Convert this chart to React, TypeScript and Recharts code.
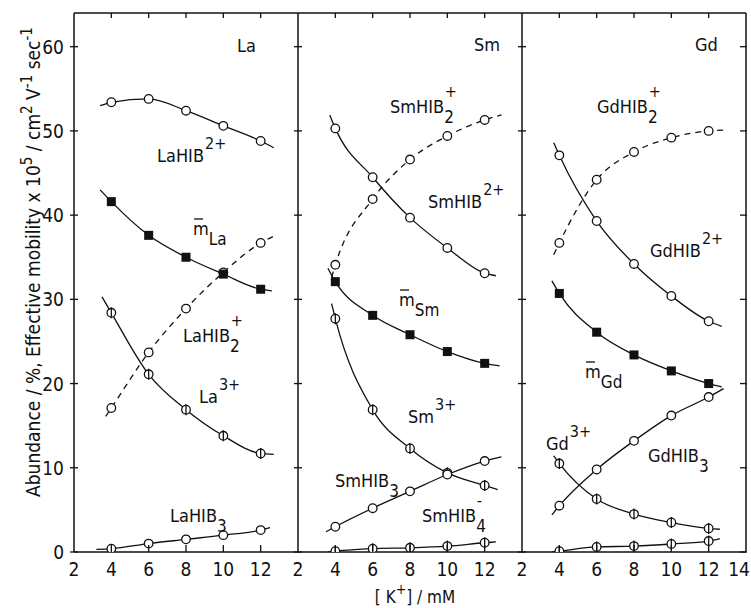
import React from 'react';
import { LineChart, Line, XAxis, YAxis } from 'recharts';

const kConc = [4, 6, 8, 10, 12];
const xTicks = [2, 4, 6, 8, 10, 12, 14];
const yTicks = [0, 10, 20, 30, 40, 50, 60];

// La
const laHib2 = [53.4, 53.8, 52.4, 50.6, 48.8];
const laMean = [41.6, 37.6, 35.0, 33.0, 31.2];
const laHib2Plus = [17.1, 23.7, 28.9, 33.2, 36.7];
const la3 = [28.4, 21.1, 16.9, 13.8, 11.7];
const laHib3 = [0.4, 1.0, 1.5, 2.0, 2.6];
// Sm
const smHib2 = [50.3, 44.5, 39.7, 36.1, 33.1];
const smHib2Plus = [34.1, 41.9, 46.6, 49.4, 51.3];
const smMean = [32.1, 28.1, 25.8, 23.8, 22.4];
const sm3 = [27.7, 16.9, 12.3, 9.4, 7.9];
const smHib3 = [3.0, 5.2, 7.2, 9.2, 10.8];
const smHib4 = [0.1, 0.4, 0.5, 0.7, 1.1];
// Gd
const gdHib2Plus = [36.7, 44.2, 47.5, 49.2, 50.0];
const gdHib2 = [47.1, 39.3, 34.2, 30.4, 27.4];
const gdMean = [30.7, 26.1, 23.4, 21.5, 20.0];
const gdHib3 = [5.5, 9.8, 13.2, 16.2, 18.4];
const gd3 = [10.5, 6.3, 4.5, 3.5, 2.8];
const gdHib4 = [0.1, 0.6, 0.7, 0.95, 1.3];

// where each drawn curve starts and stops: [x0, y0, x1, y1]
const laHib2Ends = [3.4, 53.0, 12.7, 48.0];
const laMeanEnds = [3.4, 43.0, 12.6, 31.0];
const laHib2PlusEnds = [3.7, 16.1, 12.8, 37.6];
const la3Ends = [3.5, 30.3, 12.7, 11.6];
const laHib3Ends = [3.2, 0.3, 12.5, 2.9];
const smHib2Ends = [3.7, 51.9, 12.6, 32.8];
const smHib2PlusEnds = [3.8, 32.6, 12.9, 51.9];
const smMeanEnds = [3.6, 33.7, 12.8, 22.1];
const sm3Ends = [3.8, 29.5, 12.7, 7.4];
const smHib3Ends = [3.5, 2.4, 12.9, 11.3];
const smHib4Ends = [3.6, 0, 12.6, 1.2];
const gdHib2PlusEnds = [3.7, 35.3, 12.8, 50.1];
const gdHib2Ends = [3.7, 48.6, 12.7, 26.8];
const gdMeanEnds = [3.6, 32.2, 12.7, 19.6];
const gdHib3Ends = [3.6, 4.4, 12.8, 19.4];
const gd3Ends = [3.7, 11.4, 12.6, 2.7];
const gdHib4Ends = [3.6, 0, 12.6, 1.6];

const INK = '#111';
const LABEL_FONT = '"DejaVu Sans Condensed", "DejaVu Sans", sans-serif';
const TICK_FONT = '"Liberation Sans Narrow", "DejaVu Sans Condensed", sans-serif';

type Marker = 'open' | 'bar' | 'square';
interface Series { vals: number[]; ends: number[]; marker: Marker; dashed?: boolean }

const build = (vals: number[], ends: number[]) => [
  { x: ends[0], y: ends[1], end: true },
  ...kConc.map((x, i) => ({ x, y: vals[i] })),
  { x: ends[2], y: ends[3], end: true },
];

const panels: { left: number; right: number; series: Series[] }[] = [
  {
    left: 74, right: 298,
    series: [
      { vals: laHib2, ends: laHib2Ends, marker: 'open' },
      { vals: laHib2Plus, ends: laHib2PlusEnds, marker: 'open', dashed: true },
      { vals: laMean, ends: laMeanEnds, marker: 'square' },
      { vals: la3, ends: la3Ends, marker: 'bar' },
      { vals: laHib3, ends: laHib3Ends, marker: 'open' },
    ],
  },
  {
    left: 298, right: 522,
    series: [
      { vals: smHib2Plus, ends: smHib2PlusEnds, marker: 'open', dashed: true },
      { vals: smHib2, ends: smHib2Ends, marker: 'open' },
      { vals: smMean, ends: smMeanEnds, marker: 'square' },
      { vals: sm3, ends: sm3Ends, marker: 'bar' },
      { vals: smHib3, ends: smHib3Ends, marker: 'open' },
      { vals: smHib4, ends: smHib4Ends, marker: 'bar' },
    ],
  },
  {
    left: 522, right: 746,
    series: [
      { vals: gdHib2Plus, ends: gdHib2PlusEnds, marker: 'open', dashed: true },
      { vals: gdHib2, ends: gdHib2Ends, marker: 'open' },
      { vals: gdMean, ends: gdMeanEnds, marker: 'square' },
      { vals: gd3, ends: gd3Ends, marker: 'bar' },
      { vals: gdHib3, ends: gdHib3Ends, marker: 'open' },
      { vals: gdHib4, ends: gdHib4Ends, marker: 'bar' },
    ],
  },
];

const makeDot = (marker: Marker) => (p: any) => {
  const { cx, cy, payload, index } = p;
  if (payload.end) return <g key={index} />;
  if (marker === 'square')
    return <rect key={index} x={cx - 4.5} y={cy - 4.5} width={9} height={9} fill={INK} />;
  return (
    <g key={index}>
      <circle cx={cx} cy={cy} r={4.3} fill="#fff" stroke={INK} strokeWidth={1.3} />
      {marker === 'bar' && <line x1={cx} x2={cx} y1={cy - 5.5} y2={cy + 5.5} stroke={INK} strokeWidth={1.3} />}
    </g>
  );
};

const bottomTick = (panel: number) => (p: any) => {
  const { x, y, payload } = p;
  const v = payload.value;
  const last = v === 14;
  return (
    <g>
      {v !== 2 && !last && <line x1={x} x2={x} y1={y} y2={y - 7} stroke={INK} strokeWidth={1.3} />}
      {(!last || panel === 2) && (
        <text x={last ? 750 : x} y={y + 24} textAnchor={last ? 'end' : 'middle'} fontSize={19}
          fontFamily={TICK_FONT} fill={INK}>{v}</text>
      )}
    </g>
  );
};

const topTick = (p: any) => {
  const { x, y, payload } = p;
  const v = payload.value;
  if (v === 2 || v === 14) return <g />;
  return <line x1={x} x2={x} y1={y} y2={y + 5} stroke={INK} strokeWidth={1.3} />;
};

const leftTick = (panel: number) => (p: any) => {
  const { x, y, payload } = p;
  return (
    <g>
      <line x1={x - 4} x2={x + 4} y1={y} y2={y} stroke={INK} strokeWidth={1.3} />
      {panel === 0 && (
        <text x={x - 10} y={y + 7} textAnchor="end" fontSize={19} fontFamily={TICK_FONT} fill={INK}>{payload.value}</text>
      )}
    </g>
  );
};

const rightTick = (p: any) => {
  const { x, y } = p;
  return <line x1={x - 6} x2={x + 1} y1={y} y2={y} stroke={INK} strokeWidth={1.3} />;
};

function Chem({ x, y, base, sub, sup, bar }: { x: number; y: number; base: string; sub?: string; sup?: string; bar?: boolean }) {
  return (
    <g>
      <text x={x} y={y} fontSize={18} fontFamily={LABEL_FONT} fill={INK}>
        {base}
        {sub && <tspan dy={10} fontSize={17}>{sub}</tspan>}
        {sup && <tspan dx={sub ? -9 : 1} dy={sub ? -26 : -13} fontSize={16}>{sup}</tspan>}
      </text>
      {bar && <line x1={x + 1} x2={x + 10} y1={y - 16} y2={y - 16} stroke={INK} strokeWidth={1.3} />}
    </g>
  );
}

export default function App() {
  const axisLine = { stroke: INK, strokeWidth: 1.5 };
  return (
    <div style={{ position: 'absolute', left: 0, top: 0, width: 751, height: 608, background: '#fff' }}>
      {panels.map((pn, i) => (
        <div key={i} style={{ position: 'absolute', left: 0, top: 0 }}>
          <LineChart width={751} height={608}
            margin={{ top: 12, bottom: 55, left: pn.left - 1, right: 751 - pn.right - (i === 2 ? 1 : 0) }}>
            <XAxis xAxisId="b" type="number" dataKey="x" domain={[2, 14]} ticks={xTicks} interval={0}
              height={1} tickSize={0} tickMargin={0} tickLine={false} axisLine={axisLine} tick={bottomTick(i)} allowDataOverflow />
            <XAxis xAxisId="t" orientation="top" type="number" dataKey="x" domain={[2, 14]} ticks={xTicks} interval={0}
              height={1} tickSize={0} tickMargin={0} tickLine={false} axisLine={axisLine} tick={topTick} allowDataOverflow />
            <YAxis yAxisId="l" type="number" domain={[0, 64]} ticks={yTicks} interval={0}
              width={1} tickSize={0} tickMargin={0} tickLine={false} axisLine={axisLine} tick={leftTick(i)} allowDataOverflow />
            {i === 2 && (
              <YAxis yAxisId="r" orientation="right" type="number" domain={[0, 64]} ticks={yTicks} interval={0}
                width={1} tickSize={0} tickMargin={0} tickLine={false} axisLine={axisLine} tick={rightTick} allowDataOverflow />
            )}
            {pn.series.map((s, j) => (
              <Line key={j} xAxisId="b" yAxisId="l" data={build(s.vals, s.ends)} dataKey="y" type="monotone"
                stroke={INK} strokeWidth={1.3} strokeDasharray={s.dashed ? '6 5' : undefined}
                dot={makeDot(s.marker)} activeDot={false} isAnimationActive={false} />
            ))}
          </LineChart>
        </div>
      ))}
      <svg width={751} height={608} style={{ position: 'absolute', left: 0, top: 0, pointerEvents: 'none' }}>
        <text x={237} y={52} fontSize={18} fontFamily={LABEL_FONT} fill={INK}>La</text>
        <text x={474} y={51} fontSize={18} fontFamily={LABEL_FONT} fill={INK}>Sm</text>
        <text x={695} y={51} fontSize={18} fontFamily={LABEL_FONT} fill={INK}>Gd</text>

        <Chem x={157} y={162} base="LaHIB" sup="2+" />
        <Chem x={193} y={235} base="m" sub="La" bar />
        <Chem x={183} y={342} base="LaHIB" sub="2" sup="+" />
        <Chem x={199} y={403} base="La" sup="3+" />
        <Chem x={170} y={522} base="LaHIB" sub="3" />

        <Chem x={390} y={113} base="SmHIB" sub="2" sup="+" />
        <Chem x={428} y={208} base="SmHIB" sup="2+" />
        <Chem x={399} y={306} base="m" sub="Sm" bar />
        <Chem x={408} y={423} base="Sm" sup="3+" />
        <Chem x={335} y={487} base="SmHIB" sub="3" />
        <Chem x={422} y={522} base="SmHIB" sub="4" sup="-" />

        <Chem x={597} y={113} base="GdHIB" sub="2" sup="+" />
        <Chem x={650} y={257} base="GdHIB" sup="2+" />
        <Chem x={585} y={378} base="m" sub="Gd" bar />
        <Chem x={546} y={450} base="Gd" sup="3+" />
        <Chem x={648} y={462} base="GdHIB" sub="3" />

        <text transform="translate(40,262) rotate(-90)" textAnchor="middle" fontSize={19} fontFamily={LABEL_FONT} fill={INK}>
          Abundance / %, Effective mobility x 10<tspan dy={-8} fontSize={15}>5</tspan>
          <tspan dy={8}> / cm</tspan><tspan dy={-8} fontSize={15}>2</tspan>
          <tspan dy={8}> V</tspan><tspan dy={-8} fontSize={15}>-1</tspan>
          <tspan dy={8}> sec</tspan><tspan dy={-8} fontSize={15}>-1</tspan>
        </text>
        <text x={415} y={603} textAnchor="middle" fontSize={17} fontFamily={LABEL_FONT} fill={INK}>
          [ K<tspan dy={-9} fontSize={14}>+</tspan><tspan dy={9}>] / mM</tspan>
        </text>
      </svg>
    </div>
  );
}
